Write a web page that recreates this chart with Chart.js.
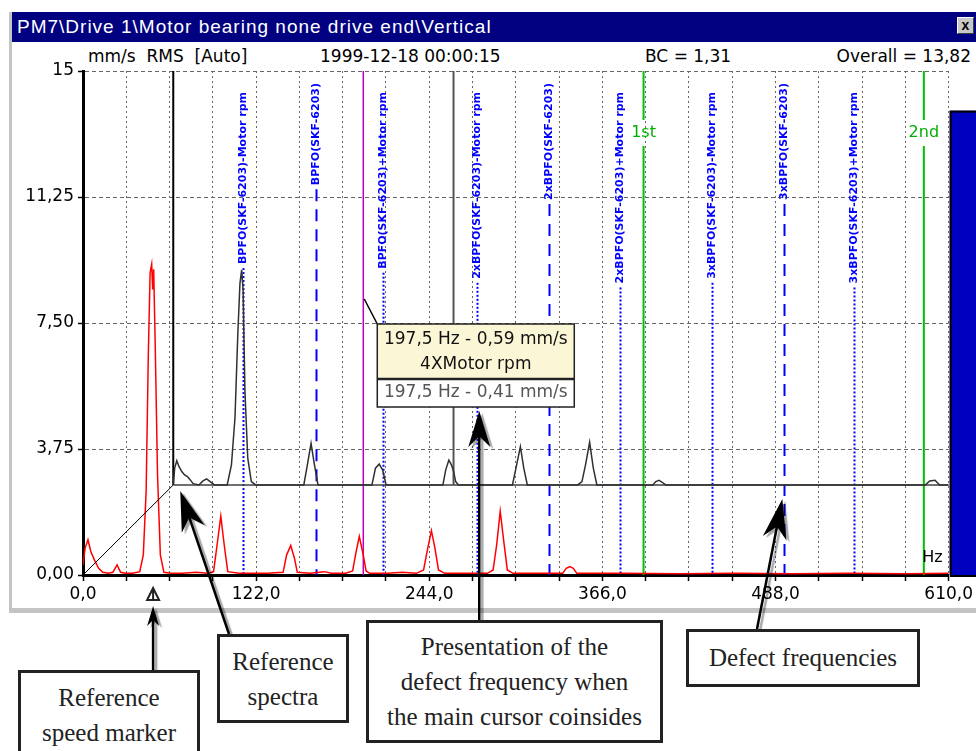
<!DOCTYPE html>
<html>
<head>
<meta charset="utf-8">
<script src="https://cdn.jsdelivr.net/npm/chart.js@4.4.1/dist/chart.umd.min.js"></script>
<style>
  body { margin: 0; width: 976px; height: 751px; overflow: hidden; background: #fff; position: relative; }
  .abs { position: absolute; }
  #win { left: 9px; top: 12px; width: 980px; height: 596px; border-left: 3px solid #c4c4c4; border-bottom: 5px solid #c4c4c4; background: #fff; }
  #title { left: 12px; top: 12px; width: 964px; height: 30px; background: #000080; color: #fff; font: 19px "Liberation Sans", Arial, sans-serif; letter-spacing: 1px; line-height: 30px; text-indent: 5px; white-space: nowrap; }
  #close { left: 957px; top: 17px; width: 15px; height: 15px; background: #c8c8c8; border: 1px solid; border-color: #fff #404040 #404040 #fff; font: bold 14px "Liberation Sans", Arial, sans-serif; text-align: center; line-height: 14px; }
  .hdr { top: 46px; font: 17px "DejaVu Sans", sans-serif; color: #000; white-space: pre; }
  canvas { position: absolute; left: 0; top: 0; z-index: 2; }
  .note { position: absolute; z-index: 3; background: #fff; border: 3px solid #222; font: 25px "Liberation Serif", serif; color: #222; text-align: center; line-height: 35px; box-sizing: border-box; }
</style>
</head>
<body>
<div id="win" class="abs"></div>
<div id="title" class="abs">PM7\Drive 1\Motor bearing none drive end\Vertical</div>
<div id="close" class="abs">x</div>
<div class="abs hdr" style="left:88px">mm/s  RMS  [Auto]</div>
<div class="abs hdr" style="left:320px">1999-12-18 00:00:15</div>
<div class="abs hdr" style="left:645px">BC = 1,31</div>
<div class="abs hdr" style="right:5px">Overall = 13,82</div>

<canvas id="spectrum" width="976" height="751"></canvas>

<div class="note" style="left:18px; top:670px; width:182px; height:100px; padding-top:7px">Reference<br>speed marker</div>
<div class="note" style="left:217px; top:634px; width:132px; height:89px; padding-top:7px">Reference<br>spectra</div>
<div class="note" style="left:366px; top:620px; width:297px; height:123px; padding-top:6px">Presentation of the<br>defect frequency when<br>the main cursor coinsides</div>
<div class="note" style="left:686px; top:629px; width:234px; height:58px; padding-top:8px">Defect frequencies</div>

<script>
// current spectrum (red), Hz / mm/s RMS
const curFreq = [0, 1.5, 3.5, 5.5, 8, 11, 14, 18, 21, 24, 26.5, 30, 35, 40, 42.5, 44.5, 46, 47.3, 48.4, 49.1,
  49.8, 51, 52.5, 54.5, 57, 62, 70, 80, 88, 92, 94.5, 97.1, 99.5, 102, 110, 120, 130, 141, 143.5, 146.4,
  149, 151, 160, 170, 175, 185, 190, 192.5, 194.7, 197.5, 199.5, 202, 215, 225, 235, 240, 242.5, 245.5, 248, 250.5,
  255, 270, 285, 289, 291.5, 294, 296.5, 299, 303, 320, 338, 340.5, 343, 345.5, 348, 380, 420, 460, 500, 540,
  580, 610];
const curAmp = [0.3, 0.8, 1.05, 0.7, 0.45, 0.2, 0.08, 0.05, 0.08, 0.3, 0.08, 0.05, 0.05, 0.1, 0.6, 2.5, 6.5, 9.0, 9.25, 8.5,
  9.1, 6.6, 3.0, 0.6, 0.08, 0.05, 0.05, 0.08, 0.05, 0.1, 0.9, 1.75, 0.9, 0.1, 0.05, 0.05, 0.05, 0.08, 0.6, 0.88,
  0.5, 0.08, 0.05, 0.1, 0.05, 0.05, 0.12, 0.7, 1.15, 0.59, 0.12, 0.05, 0.05, 0.08, 0.05, 0.15, 0.7, 1.32, 0.8, 0.15,
  0.05, 0.05, 0.05, 0.15, 0.9, 1.9, 1.0, 0.15, 0.05, 0.05, 0.05, 0.2, 0.25, 0.2, 0.05, 0.05, 0.04, 0.05, 0.04, 0.05,
  0.04, 0.05];

// reference spectrum (black), own frequency axis
const refFreq = [0, 1, 2.5, 4, 6, 8, 10, 12, 14, 18, 21, 23.5, 26, 29, 38, 41, 43.5, 45.5, 47, 48.2,
  49.2, 50.5, 52.5, 55, 58, 92, 94.5, 97.1, 99.5, 102, 140, 142.5, 145.1, 147.5, 150, 190, 192, 194.2, 196, 197.5,
  199, 201, 239, 241.5, 244.6, 247, 249.5, 285, 288, 290.5, 293.4, 296, 298.5, 338, 340, 342.4, 344.5, 347, 530, 533,
  536.8, 540, 546.4];
const refAmp = [0, 0.5, 0.72, 0.55, 0.4, 0.3, 0.25, 0.15, 0.04, 0, 0.12, 0.18, 0.1, 0, 0, 0.6, 2.0, 4.5, 6.0, 6.4,
  5.8, 2.8, 0.8, 0.1, 0, 0, 0.6, 1.24, 0.6, 0, 0, 0.5, 0.62, 0.45, 0, 0, 0.45, 0.74, 0.6, 0.41,
  0.1, 0, 0, 0.5, 1.14, 0.5, 0, 0, 0.1, 0.6, 1.27, 0.5, 0, 0, 0.1, 0.14, 0.08, 0, 0, 0.12,
  0.14, 0, 0];
// where the reference spectrum's origin sits (3D offset), in axis units
const refOffsetHz = 63.6;
const refOffsetAmp = 2.68;

const defectFreqs = [112.7, 164.3, 211.7, 277.7, 328.5, 378.4, 443.4, 494.2, 543.3];
const defectLabels = [
  'BPFO(SKF-6203)-Motor rpm', 'BPFO(SKF-6203)', 'BPFO(SKF-6203)+Motor rpm',
  '2xBPFO(SKF-6203)-Motor rpm', '2xBPFO(SKF-6203)', '2xBPFO(SKF-6203)+Motor rpm',
  '3xBPFO(SKF-6203)-Motor rpm', '3xBPFO(SKF-6203)', '3xBPFO(SKF-6203)+Motor rpm'
];
const harmonicFreqs = [395.0, 592.5];
const harmonicLabels = ['1st', '2nd'];

const cursorHz = 197.5;
const currentAtCursor = 0.59;
const referenceAtCursor = 0.41;
const cursorOrder = '4XMotor rpm';
const motorRpmHz = 49.4;
const overallRms = 13.82;

const xMax = 610, xStep = 30.5, xLabelStep = 122;
const yMax = 15, yStep = 3.75;

const comma = (v, d) => v.toFixed(d).replace('.', ',');

function arrow(ctx, x1, y1, x2, y2, len, half) {
  const ang = Math.atan2(y2 - y1, x2 - x1);
  const notch = len * 0.7;
  ctx.save();
  ctx.shadowColor = 'rgba(0,0,0,0.35)';
  ctx.shadowOffsetX = 3;
  ctx.shadowOffsetY = 2;
  ctx.shadowBlur = 1;
  ctx.strokeStyle = '#000';
  ctx.lineWidth = 2.5;
  ctx.beginPath();
  ctx.moveTo(x1, y1);
  ctx.lineTo(x2 - Math.cos(ang) * notch, y2 - Math.sin(ang) * notch);
  ctx.stroke();
  ctx.translate(x2, y2);
  ctx.rotate(ang);
  ctx.beginPath();
  ctx.moveTo(0, 0);
  ctx.lineTo(-len, -half);
  ctx.lineTo(-notch, 0);
  ctx.lineTo(-len, half);
  ctx.closePath();
  ctx.fillStyle = '#000';
  ctx.fill();
  ctx.restore();
}

const overlay = {
  id: 'overlay',
  beforeDatasetsDraw(chart) {
    const {ctx, chartArea: a, scales: {x, y}} = chart;
    ctx.save();
    // defect frequency lines
    ctx.font = 'bold 11px "DejaVu Sans"';
    defectFreqs.forEach((f, i) => {
      const px = Math.round(x.getPixelForValue(f)) + 0.5;
      const band = defectLabels[i].includes('Motor');
      const top = a.top + (band ? 21 : 12);
      const w = ctx.measureText(defectLabels[i]).width;
      ctx.beginPath();
      ctx.setLineDash(band ? [2, 2] : [12, 8]);
      ctx.moveTo(px, top + w + 4);
      ctx.lineTo(px, a.bottom);
      ctx.strokeStyle = '#0000ff';
      ctx.lineWidth = 2;
      ctx.stroke();
    });
    ctx.setLineDash([]);
    // reference axis and reference cursor
    const baseY = y.getPixelForValue(refOffsetAmp);
    ctx.lineWidth = 2;
    ctx.strokeStyle = '#000';
    ctx.beginPath();
    ctx.moveTo(x.getPixelForValue(refOffsetHz), a.top);
    ctx.lineTo(x.getPixelForValue(refOffsetHz), baseY);
    ctx.stroke();
    ctx.strokeStyle = '#555';
    ctx.beginPath();
    ctx.moveTo(x.getPixelForValue(refOffsetHz + cursorHz), a.top);
    ctx.lineTo(x.getPixelForValue(refOffsetHz + cursorHz), baseY);
    ctx.stroke();
    // harmonic cursors
    ctx.font = '16px "DejaVu Sans"';
    ctx.textAlign = 'center';
    ctx.textBaseline = 'middle';
    harmonicFreqs.forEach((f, i) => {
      const px = x.getPixelForValue(f);
      const ly = a.top + 62;
      ctx.strokeStyle = '#00c000';
      ctx.lineWidth = 2;
      ctx.beginPath();
      ctx.moveTo(px, a.top); ctx.lineTo(px, ly - 13);
      ctx.moveTo(px, ly + 13); ctx.lineTo(px, a.bottom);
      ctx.stroke();
      ctx.fillStyle = '#00b000';
      ctx.fillText(harmonicLabels[i], px, ly);
    });
    // main cursor
    ctx.strokeStyle = '#c000c0';
    ctx.lineWidth = 1.5;
    const cx = x.getPixelForValue(cursorHz);
    ctx.beginPath();
    ctx.moveTo(cx, a.top); ctx.lineTo(cx, a.bottom);
    ctx.stroke();
    ctx.restore();
  },
  afterDatasetsDraw(chart) {
    const {ctx, chartArea: a, scales: {x, y}} = chart;
    ctx.save();
    // rotated defect labels
    ctx.font = 'bold 11px "DejaVu Sans"';
    ctx.fillStyle = '#0000ff';
    ctx.textAlign = 'right';
    ctx.textBaseline = 'middle';
    defectFreqs.forEach((f, i) => {
      const px = x.getPixelForValue(f);
      const top = a.top + (defectLabels[i].includes('Motor') ? 21 : 12);
      ctx.save();
      ctx.translate(px, top);
      ctx.rotate(-Math.PI / 2);
      ctx.fillText(defectLabels[i], 0, 0);
      ctx.restore();
    });

    // overall level bar
    const barTop = y.getPixelForValue(overallRms);
    ctx.fillStyle = '#0000c0';
    ctx.fillRect(a.right + 1, barTop, chart.width, a.bottom - barTop);
    ctx.strokeStyle = '#000';
    ctx.lineWidth = 2;
    ctx.strokeRect(a.right + 2, barTop + 1, chart.width, a.bottom - barTop);

    // Hz unit
    ctx.fillStyle = '#000';
    ctx.font = '16px "DejaVu Sans"';
    ctx.textAlign = 'right';
    ctx.fillText('Hz', a.right - 6, a.bottom - 17);

    // cursor readout box
    const cx = x.getPixelForValue(cursorHz);
    const bx = cx + 14, by = a.top + 253, bw = 197, h1 = 55, h2 = 28;
    ctx.strokeStyle = '#000';
    ctx.lineWidth = 1.5;
    ctx.beginPath();
    ctx.moveTo(cx + 1, by - 25);
    ctx.lineTo(bx, by);
    ctx.stroke();
    ctx.fillStyle = '#fbf7d6';
    ctx.fillRect(bx, by, bw, h1);
    ctx.fillStyle = '#fff';
    ctx.fillRect(bx, by + h1, bw, h2);
    ctx.strokeStyle = '#222';
    ctx.strokeRect(bx, by, bw, h1 + h2);
    ctx.lineWidth = 2.5;
    ctx.beginPath();
    ctx.moveTo(bx, by + h1); ctx.lineTo(bx + bw, by + h1);
    ctx.stroke();
    ctx.font = '17px "DejaVu Sans"';
    ctx.textAlign = 'center';
    ctx.fillStyle = '#111';
    ctx.fillText(comma(cursorHz, 1) + ' Hz - ' + comma(currentAtCursor, 2) + ' mm/s', bx + bw / 2, by + 16);
    ctx.fillText(cursorOrder, bx + bw / 2, by + 41);
    ctx.fillStyle = '#555';
    ctx.fillText(comma(cursorHz, 1) + ' Hz - ' + comma(referenceAtCursor, 2) + ' mm/s', bx + bw / 2, by + h1 + 14);

    // reference speed marker
    const mx = x.getPixelForValue(motorRpmHz);
    ctx.strokeStyle = '#222';
    ctx.lineWidth = 2;
    ctx.beginPath();
    ctx.moveTo(mx, a.bottom + 13);
    ctx.lineTo(mx - 6, a.bottom + 25);
    ctx.lineTo(mx + 6, a.bottom + 25);
    ctx.closePath();
    ctx.moveTo(mx, a.bottom + 15);
    ctx.lineTo(mx, a.bottom + 25);
    ctx.stroke();
    ctx.restore();
  },
  afterDraw(chart) {
    const {ctx, chartArea: a, scales: {x, y}} = chart;
    const mx = x.getPixelForValue(motorRpmHz);
    arrow(ctx, mx, 670, mx, a.bottom + 31, 20, 6);
    arrow(ctx, 229, 634, x.getPixelForValue(refOffsetHz) + 7, y.getPixelForValue(refOffsetAmp) + 6, 40, 12);
    const cx = x.getPixelForValue(cursorHz);
    arrow(ctx, cx + 116, 620, cx + 116, a.top + 340, 36, 11);
    arrow(ctx, 757, 629, x.getPixelForValue(defectFreqs[7]) - 2, y.getPixelForValue(refOffsetAmp) + 14, 40, 12);
  }
};

const ctx = document.getElementById('spectrum').getContext('2d');
const chart = new Chart(ctx, {
  type: 'line',
  data: {
    datasets: [
      {
        label: 'Reference',
        data: refFreq.map((f, i) => ({x: f + refOffsetHz, y: refAmp[i] + refOffsetAmp})),
        borderColor: '#303030',
        borderWidth: 1.5
      },
      {
        label: 'Reference base',
        data: [{x: refOffsetHz, y: refOffsetAmp}, {x: xMax, y: refOffsetAmp}],
        borderColor: '#404040',
        borderWidth: 1.5
      },
      {
        label: 'Reference origin',
        data: [{x: 0, y: 0}, {x: refOffsetHz, y: refOffsetAmp}],
        borderColor: '#000',
        borderWidth: 1
      },
      {
        label: 'Current',
        data: curFreq.map((f, i) => ({x: f, y: curAmp[i]})),
        borderColor: '#ff0000',
        borderWidth: 1.5
      }
    ]
  },
  options: {
    responsive: false,
    animation: false,
    devicePixelRatio: 1,
    layout: { padding: { left: 0, top: 71, right: 24, bottom: 146 } },
    elements: { point: { radius: 0 }, line: { tension: 0, fill: false } },
    plugins: { legend: { display: false }, tooltip: { enabled: false } },
    scales: {
      x: {
        type: 'linear',
        min: 0,
        max: xMax,
        afterFit: s => { s.height = 30; },
        ticks: {
          stepSize: xStep,
          autoSkip: false,
          maxRotation: 0,
          padding: 3,
          color: '#000',
          font: { family: 'DejaVu Sans', size: 17 },
          callback: v => {
            const r = v / xLabelStep;
            return Math.abs(r - Math.round(r)) < 1e-6 ? comma(v, 1) : '';
          }
        },
        grid: { color: '#666', lineWidth: 1, tickLength: 6, tickColor: '#000', tickWidth: 1.5, tickBorderDash: [] },
        border: { display: true, color: '#000', width: 3, dash: [2, 3] }
      },
      y: {
        min: 0,
        max: yMax,
        afterFit: s => { s.width = 83; },
        ticks: {
          stepSize: yStep,
          padding: 4,
          color: '#000',
          font: { family: 'DejaVu Sans', size: 17 },
          callback: v => v === yMax ? String(v) : comma(v, 2)
        },
        grid: { color: '#666', lineWidth: 1, tickLength: 5, tickColor: '#000', tickWidth: 1.5, tickBorderDash: [] },
        border: { display: true, color: '#000', width: 3, dash: [4, 3] }
      }
    }
  },
  plugins: [overlay]
});
</script>
</body>
</html>
